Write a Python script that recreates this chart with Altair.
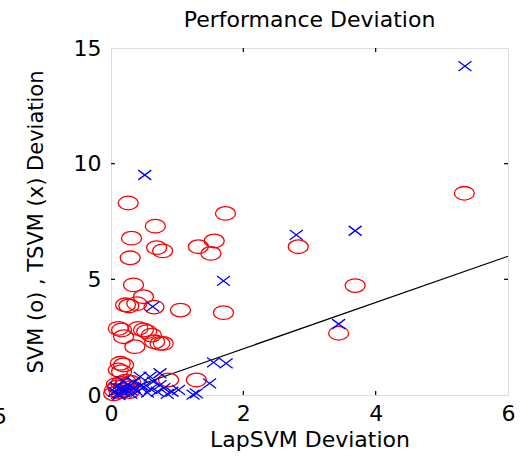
import altair as alt
import pandas as pd

# SVM deviations (red circles)
svm_x = [0.26, 0.67, 0.31, 0.69, 0.78, 0.29, 0.34, 0.49, 0.22, 0.27, 0.39, 0.65,
         1.05, 1.70, 1.73, 1.32, 1.56, 1.51, 2.83, 3.69, 3.44, 5.34,
         0.11, 0.16, 0.19, 0.41, 0.49, 0.54, 0.61, 0.66, 0.74, 0.79, 0.36,
         0.14, 0.19, 0.11, 0.16, 0.87, 1.29,
         0.05, 0.10, 0.15, 0.20, 0.25, 0.12, 0.30, 0.08, 0.18, 0.22, 0.04, 0.28]
svm_y = [8.30, 7.30, 6.78, 6.37, 6.23, 5.93, 4.76, 4.25, 3.90, 3.85, 3.95, 3.80,
         3.67, 3.56, 7.85, 6.41, 6.66, 6.12, 6.41, 4.73, 2.67, 8.72,
         2.88, 2.81, 2.52, 2.88, 2.81, 2.74, 2.59, 2.30, 2.23, 2.23, 2.09,
         1.37, 1.30, 1.08, 1.01, 0.65, 0.65,
         0.20, 0.35, 0.50, 0.40, 0.30, 0.15, 0.55, 0.45, 0.20, 0.60, 0.05, 0.15]

# TSVM deviations (blue crosses)
tsvm_x = [5.35, 0.51, 2.80, 3.69, 1.70, 0.63, 3.44, 1.55, 1.74, 1.49, 1.29, 1.24,
          1.02, 0.92, 0.74, 0.74, 0.64, 0.59, 0.44, 0.50, 0.35, 0.30, 0.20, 0.15,
          0.10, 0.25, 0.40, 0.55, 0.80, 0.05, 0.12, 0.18, 0.30, 0.45, 0.60, 0.85,
          0.22, 0.08, 0.35, 0.70]
tsvm_y = [14.22, 9.51, 6.92, 7.10, 4.93, 3.82, 3.07, 1.41, 1.37, 0.50, 0.07, 0.02,
          0.22, 0.14, 0.94, 0.43, 0.58, 0.79, 0.79, 0.35, 0.55, 0.20, 0.10, 0.30,
          0.05, 0.45, 0.15, 0.10, 0.30, 0.15, 0.00, 0.60, 0.05, 0.40, 0.25, 0.05,
          0.25, 0.35, 0.30, 0.15]

# reference line y = x
line_x = [0, 6]
line_y = [0, 6]

x_ticks = [0, 2, 4, 6]
y_ticks = [0, 5, 10, 15]

W, H = 397, 347
FONT = "DejaVu Sans"

xs = alt.Scale(domain=[0, 6], nice=False, zero=False)
ys = alt.Scale(domain=[0, 15], nice=False, zero=False)

svm_df = pd.DataFrame({"x": svm_x, "y": svm_y})
tsvm_df = pd.DataFrame({"x": tsvm_x, "y": tsvm_y})
line_df = pd.DataFrame({"x": line_x, "y": line_y})
xt_df = pd.DataFrame({"v": x_ticks[1:-1]})
yt_df = pd.DataFrame({"v": y_ticks[1:-1]})

xaxis = alt.Axis(values=x_ticks, format="d", title="LapSVM Deviation", labelFontSize=22,
                 titleFontSize=22, titleFontWeight="normal", labelPadding=8,
                 titlePadding=5, ticks=False, domain=False, grid=False,
                 labelFont=FONT, titleFont=FONT, labelColor="black",
                 titleColor="black", labelFlush=False)
yaxis = alt.Axis(values=y_ticks, format="d", title="SVM (o) , TSVM (x) Deviation",
                 labelFontSize=22, titleFontSize=21, titleFontWeight="normal",
                 labelPadding=10, titlePadding=27, ticks=False, domain=False,
                 grid=False, labelFont=FONT, titleFont=FONT, labelColor="black",
                 titleColor="black", labelFlush=False)

base_line = alt.Chart(line_df).mark_line(color="black", strokeWidth=1.2).encode(
    x=alt.X("x:Q", scale=xs, axis=xaxis),
    y=alt.Y("y:Q", scale=ys, axis=yaxis),
)

circle_shape = "M-1,0A1,0.68,0,1,1,1,0A1,0.68,0,1,1,-1,0Z"
cross_shape = "M-1,-0.75L1,0.75M-1,0.75L1,-0.75"

svm = alt.Chart(svm_df).mark_point(shape=circle_shape, size=400, filled=False,
                                   color="#ff0000", strokeWidth=1.3, opacity=1).encode(
    x=alt.X("x:Q", scale=xs), y=alt.Y("y:Q", scale=ys))

tsvm = alt.Chart(tsvm_df).mark_point(shape=cross_shape, size=169, filled=False,
                                     color="#0000ff", strokeWidth=1.3, opacity=1).encode(
    x=alt.X("x:Q", scale=xs), y=alt.Y("y:Q", scale=ys))

tick_len = 4
xt_bottom = alt.Chart(xt_df).mark_rule(color="black", strokeWidth=1.2).encode(
    x=alt.X("v:Q", scale=xs), y=alt.value(H), y2=alt.value(H - tick_len))
xt_top = alt.Chart(xt_df).mark_rule(color="black", strokeWidth=1.2).encode(
    x=alt.X("v:Q", scale=xs), y=alt.value(0), y2=alt.value(tick_len))
yt_left = alt.Chart(yt_df).mark_rule(color="black", strokeWidth=1.2).encode(
    y=alt.Y("v:Q", scale=ys), x=alt.value(0), x2=alt.value(tick_len))
yt_right = alt.Chart(yt_df).mark_rule(color="black", strokeWidth=1.2).encode(
    y=alt.Y("v:Q", scale=ys), x=alt.value(W), x2=alt.value(W - tick_len))

stray = alt.Chart(pd.DataFrame({"t": ["5"]})).mark_text(
    font=FONT, fontSize=22, align="right", baseline="alphabetic", color="black"
).encode(text="t:N", x=alt.value(-104), y=alt.value(376))

chart = alt.layer(base_line, svm, tsvm, xt_bottom, xt_top, yt_left, yt_right, stray).properties(
    width=W, height=H,
    title=alt.TitleParams("Performance Deviation", fontSize=22, fontWeight="normal",
                          font=FONT, color="black", offset=5, anchor="middle"),
    autosize=alt.AutoSizeParams(type="none"),
    padding={"left": 111, "top": 48, "right": 23, "bottom": 63},
).configure_view(stroke="black", strokeWidth=1.6).configure(background="white")

chart.save("out.html", embed_options={"renderer": "svg", "actions": False})
